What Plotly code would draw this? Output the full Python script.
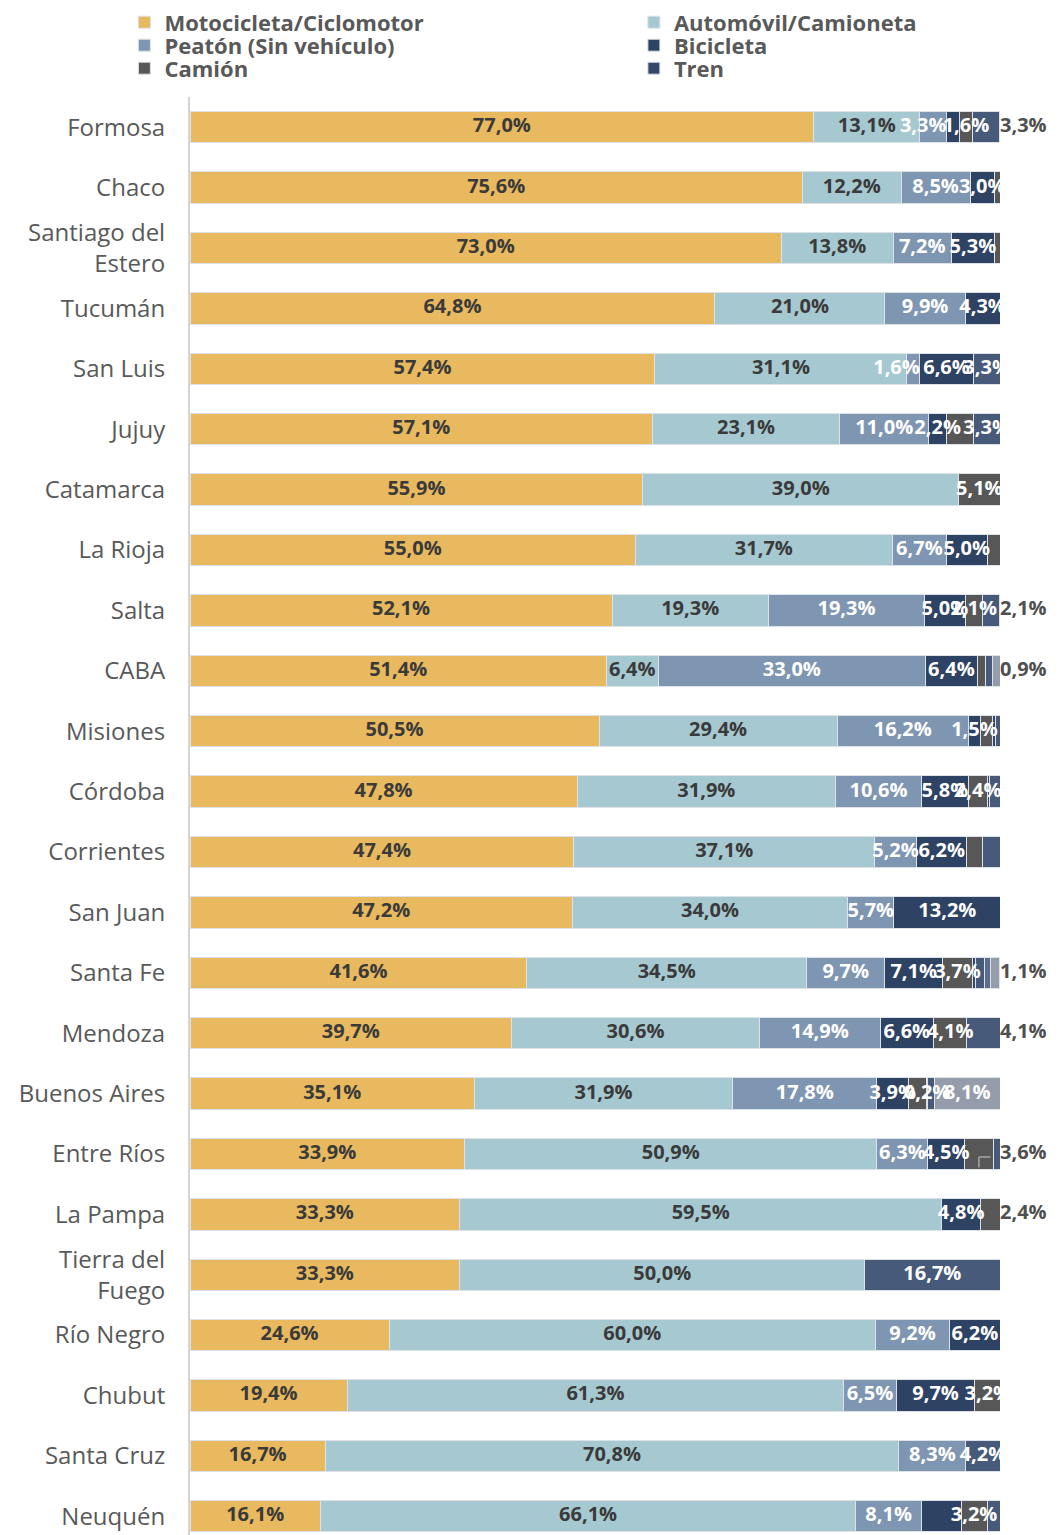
import plotly.graph_objects as go

provinces = ["Formosa", "Chaco", "Santiago del<br>Estero", "Tucumán", "San Luis", "Jujuy",
             "Catamarca", "La Rioja", "Salta", "CABA", "Misiones", "Córdoba", "Corrientes",
             "San Juan", "Santa Fe", "Mendoza", "Buenos Aires", "Entre Ríos", "La Pampa",
             "Tierra del<br>Fuego", "Río Negro", "Chubut", "Santa Cruz", "Neuquén"]

moto   = [77.0, 75.6, 73.0, 64.8, 57.4, 57.1, 55.9, 55.0, 52.1, 51.4, 50.5, 47.8, 47.4, 47.2, 41.6, 39.7, 35.1, 33.9, 33.3, 33.3, 24.6, 19.4, 16.7, 16.1]
auto   = [13.1, 12.2, 13.8, 21.0, 31.1, 23.1, 39.0, 31.7, 19.3, 6.4, 29.4, 31.9, 37.1, 34.0, 34.5, 30.6, 31.9, 50.9, 59.5, 50.0, 60.0, 61.3, 70.8, 66.1]
peaton = [3.3, 8.5, 7.2, 9.9, 1.6, 11.0, 0, 6.7, 19.3, 33.0, 16.2, 10.6, 5.2, 5.7, 9.7, 14.9, 17.8, 6.3, 0, 0, 9.2, 6.5, 8.3, 8.1]
bici   = [1.6, 3.0, 5.3, 4.3, 6.6, 2.2, 0, 5.0, 5.0, 6.4, 1.5, 5.8, 6.2, 13.2, 7.1, 6.6, 3.9, 4.5, 4.8, 0, 6.2, 9.7, 0, 4.9]
camion = [1.6, 0.7, 0.7, 0, 0, 3.3, 5.1, 1.6, 2.1, 1.0, 1.5, 2.4, 2.0, 0, 3.7, 4.1, 2.2, 3.6, 2.4, 0, 0, 3.2, 0, 3.2]
tren   = [0, 0, 0, 0, 0, 0, 0, 0, 0, 0, 0.3, 0.2, 0, 0, 0.4, 0, 0.2, 0, 0, 0, 0, 0, 0, 0]
otro_a = [3.3, 0, 0, 0, 3.3, 3.3, 0, 0, 2.1, 0.9, 0.6, 1.3, 2.1, 0, 1.1, 4.1, 0.8, 0.8, 0, 16.7, 0, 0, 4.2, 1.6]
otro_b = [0, 0, 0, 0, 0, 0, 0, 0, 0, 0, 0, 0, 0, 0, 0.7, 0, 0, 0, 0, 0, 0, 0, 0, 0]
otros  = [0, 0, 0, 0, 0, 0, 0, 0, 0, 0.9, 0, 0, 0, 0, 1.1, 0, 8.1, 0, 0, 0, 0, 0, 0, 0]

series = [
    ("moto", "Motocicleta/Ciclomotor", moto, "#E8B95E", "#3A3A3A", True),
    ("auto", "Automóvil/Camioneta", auto, "#A6C9D1", "#3A3A3A", True),
    ("peaton", "Peatón (Sin vehículo)", peaton, "#7F96B2", "white", True),
    ("bici", "Bicicleta", bici, "#2E4264", "white", True),
    ("camion", "Camión", camion, "#575757", "white", True),
    ("tren", "Tren", tren, "#34466A", "white", True),
    ("otro_a", "Otro", otro_a, "#475A7A", "white", False),
    ("otro_b", "Otro (2)", otro_b, "#5A6D8C", "white", False),
    ("otros", "Otros", otros, "#959CAA", "white", False),
]

# labels not drawn inside the bar
hidden = {
    "Formosa": ["bici", "otro_a"],
    "Chaco": ["camion"],
    "Santiago del<br>Estero": ["camion"],
    "Jujuy": ["camion"],
    "La Rioja": ["camion"],
    "Salta": ["otro_a"],
    "CABA": ["camion", "otro_a", "otros"],
    "Misiones": ["camion", "tren", "otro_a"],
    "Córdoba": ["tren", "otro_a"],
    "Corrientes": ["camion", "otro_a"],
    "Santa Fe": ["tren", "otro_a", "otro_b", "otros"],
    "Mendoza": ["otro_a"],
    "Buenos Aires": ["camion", "otro_a"],
    "Entre Ríos": ["camion", "otro_a"],
    "La Pampa": ["camion"],
    "Neuquén": ["bici", "otro_a"],
}
# labels drawn to the right of the bar
outside = {"Formosa": "otro_a", "Salta": "otro_a", "CABA": "otros", "Santa Fe": "otros",
           "Mendoza": "otro_a", "Entre Ríos": "camion", "La Pampa": "camion"}
# labels aligned to the end of their segment instead of centred
end_aligned = {("Formosa", "peaton"), ("San Luis", "peaton")}
# outside label that gets a leader line back to its segment
leader = ("Entre Ríos", "camion")


def fmt(v):
    return f"{v:.1f}".replace(".", ",") + "%"


FONT = "Open Sans"
fig = go.Figure()

legend_pos = {
    "moto": ("legend", -0.081, 1.0519),
    "auto": ("legend2", 0.548, 1.0519),
    "peaton": ("legend3", -0.081, 1.0359),
    "bici": ("legend4", 0.548, 1.0359),
    "camion": ("legend5", -0.081, 1.0199),
    "tren": ("legend6", 0.548, 1.0199),
}

for key, name, vals, color, tcolor, show in series:
    fig.add_trace(go.Bar(
        y=provinces, x=vals, name=name, orientation="h",
        marker=dict(color=color, line=dict(color="#DCE2E8", width=1)),
        width=0.52, showlegend=show,
        legend=legend_pos[key][0] if key in legend_pos else "legend",
        hoverinfo="skip",
    ))

# labels
lx, ly, lt, lc = [], [], [], []
ex, ey, et = [], [], []
ox, oy, ot = [], [], []
leader_x = None
for i, p in enumerate(provinces):
    cum = 0.0
    for key, name, vals, color, tcolor, show in series:
        v = vals[i]
        if v > 0:
            mid = cum + v / 2
            if (p, key) == leader:
                leader_x = mid
            if outside.get(p) == key:
                ox.append(100)
                oy.append(p)
                ot.append(fmt(v))
            elif key not in hidden.get(p, []):
                if (p, key) in end_aligned:
                    ex.append(cum + v)
                    ey.append(p)
                    et.append(fmt(v))
                else:
                    lx.append(mid)
                    ly.append(p)
                    lt.append(fmt(v))
                    lc.append(tcolor)
        cum += v

fig.add_trace(go.Scatter(
    x=lx, y=ly, text=lt, mode="text", textposition="middle center",
    textfont=dict(family=FONT, size=20, color=lc, weight="bold"),
    showlegend=False, cliponaxis=True, hoverinfo="skip",
))
fig.add_trace(go.Scatter(
    x=ex, y=ey, text=et, mode="text", textposition="middle left",
    textfont=dict(family=FONT, size=20, color="white", weight="bold"),
    showlegend=False, cliponaxis=True, hoverinfo="skip",
))
fig.add_trace(go.Scatter(
    x=ox, y=oy, text=ot, mode="text", textposition="middle right",
    textfont=dict(family=FONT, size=20, color="#4F4F4F", weight="bold"),
    showlegend=False, cliponaxis=False, hoverinfo="skip",
))

# elbow leader line for the Entre Ríos outside label
if leader_x is not None:
    fig.add_annotation(x=leader_x, y=leader[0], text="", showarrow=True, arrowhead=0,
                       arrowwidth=1.5, arrowcolor="#A6A6A6", ax=0, ay=12, yshift=-3)
    fig.add_annotation(x=leader_x, y=leader[0], text="", showarrow=True, arrowhead=0,
                       arrowwidth=1.5, arrowcolor="#A6A6A6", ax=13, ay=0, yshift=-3)

layout_legends = {}
for key, (lname, lxp, lyp) in legend_pos.items():
    layout_legends[lname] = dict(
        x=lxp, y=lyp, xanchor="left", yanchor="middle", orientation="v",
        font=dict(family=FONT, size=22, color="#595959", weight="bold"),
        bgcolor="rgba(0,0,0,0)", borderwidth=0, itemclick=False,
    )

# page body adds an 8 px offset; the figure is sized so the plot lands where the reference has it
fig.update_layout(
    width=1052, height=1527,
    margin=dict(l=182, r=60, t=89, b=0, autoexpand=False),
    barmode="stack",
    plot_bgcolor="white", paper_bgcolor="white",
    xaxis=dict(range=[0, 100], showgrid=False, showticklabels=False, zeroline=False,
               showline=False, fixedrange=True),
    yaxis=dict(categoryorder="array", categoryarray=provinces,
               range=[23.31, -0.5], showgrid=False, zeroline=False,
               showline=True, linecolor="#D4D4D4", linewidth=2,
               ticks="", ticklabelstandoff=18,
               tickfont=dict(family=FONT, size=24, color="#595959")),
    **layout_legends,
)

fig.write_html("out.html")
